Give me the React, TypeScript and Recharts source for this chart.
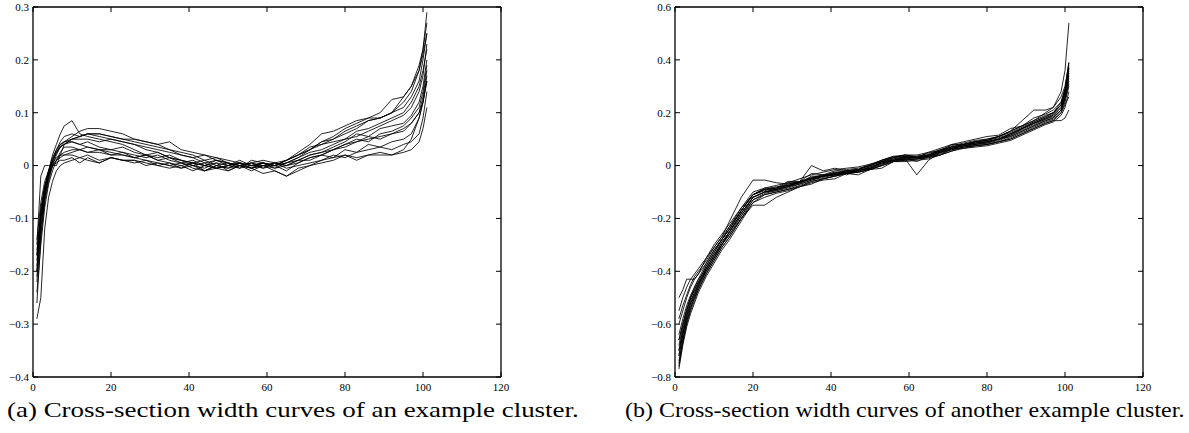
import React from 'react';
import { LineChart, Line, XAxis, YAxis } from 'recharts';

// sample positions along the cross-section (shared by every curve)
const X = [
  1, 2, 3, 4, 5, 6, 7, 8,
  10, 12, 14, 17, 20,
  23, 26, 29, 32, 35, 38,
  41, 44, 47, 50, 53, 56,
  59, 62, 65, 68, 71, 74,
  77, 80, 83, 86, 89, 92,
  95, 97, 99, 100, 101,
];

const X_TICKS = [0, 20, 40, 60, 80, 100, 120];
const Y_TICKS_A = [-0.4, -0.3, -0.2, -0.1, 0, 0.1, 0.2, 0.3];
const Y_TICKS_B = [-0.8, -0.6, -0.4, -0.2, 0, 0.2, 0.4, 0.6];

// (a) example cluster
const a01 = [-0.26, -0.14, -0.06, -0.01, 0.02, 0.04, 0.06, 0.075, 0.085, 0.06, 0.055, 0.05, 0.045, 0.04, 0.03, 0.02, 0.025, 0.015, 0.01, 0, 0.005, -0.005, 0, 0.01, 0, 0.005, 0, 0.01, 0.02, 0.035, 0.04, 0.05, 0.06, 0.07, 0.085, 0.09, 0.1, 0.12, 0.14, 0.18, 0.22, 0.29];
const a02 = [-0.15, -0.02, 0, 0, 0, 0, 0.02, 0.04, 0.05, 0.055, 0.06, 0.06, 0.055, 0.05, 0.045, 0.04, 0.035, 0.03, 0.02, 0.015, 0.02, 0.01, 0.005, 0, 0.005, 0.01, 0.005, 0.01, 0.02, 0.03, 0.045, 0.05, 0.065, 0.075, 0.085, 0.09, 0.1, 0.13, 0.15, 0.18, 0.21, 0.25];
const a03 = [-0.29, -0.25, -0.12, -0.06, -0.03, -0.01, 0, 0.005, 0.01, 0.015, 0.01, 0.005, 0.015, 0.01, 0.01, 0.005, 0, 0.005, -0.005, 0, -0.01, 0, -0.005, 0.005, -0.005, 0, -0.01, -0.02, -0.01, 0, 0.005, 0.01, 0.02, 0.015, 0.02, 0.025, 0.02, 0.03, 0.05, 0.09, 0.12, 0.16];
const a04 = [-0.2, -0.1, -0.05, -0.02, 0, 0.005, 0.01, 0.01, 0.015, 0.005, 0.015, 0.005, 0.015, 0.01, 0.01, 0, 0.005, 0, -0.005, 0.005, 0, -0.005, 0, 0.005, 0, 0, 0.005, 0, 0.01, 0.01, 0.02, 0.015, 0.03, 0.025, 0.04, 0.035, 0.045, 0.05, 0.06, 0.09, 0.12, 0.17];
const a05 = [-0.22, -0.13, -0.07, -0.03, 0, 0.02, 0.035, 0.045, 0.055, 0.065, 0.07, 0.07, 0.065, 0.06, 0.05, 0.045, 0.04, 0.03, 0.025, 0.02, 0.01, 0.015, 0.005, 0, 0.005, -0.005, 0, 0.005, 0.015, 0.025, 0.03, 0.04, 0.05, 0.055, 0.065, 0.075, 0.085, 0.095, 0.11, 0.14, 0.17, 0.23];
const a06 = [-0.18, -0.1, -0.05, -0.02, 0.005, 0.025, 0.035, 0.04, 0.045, 0.04, 0.035, 0.03, 0.03, 0.025, 0.02, 0.015, 0.02, 0.01, 0.005, 0, -0.005, 0.005, 0, -0.005, 0.01, 0.005, 0, 0.01, 0.025, 0.04, 0.06, 0.065, 0.075, 0.085, 0.09, 0.1, 0.125, 0.13, 0.15, 0.19, 0.22, 0.27];
const a07 = [-0.17, -0.08, -0.04, -0.01, 0.01, 0.025, 0.04, 0.045, 0.045, 0.04, 0.045, 0.035, 0.03, 0.035, 0.025, 0.02, 0.015, 0.02, 0.01, 0.005, 0.01, 0, 0.005, -0.005, 0, 0.005, -0.005, 0, 0.01, 0.02, 0.025, 0.035, 0.045, 0.06, 0.055, 0.07, 0.075, 0.08, 0.095, 0.12, 0.15, 0.2];
const a08 = [-0.16, -0.09, -0.04, -0.01, 0.015, 0.03, 0.04, 0.045, 0.05, 0.05, 0.05, 0.045, 0.05, 0.045, 0.04, 0.035, 0.03, 0.025, 0.02, 0.015, 0.005, 0.01, 0, 0.005, 0, -0.005, 0.005, 0, 0.005, 0.015, 0.02, 0.03, 0.035, 0.045, 0.05, 0.055, 0.06, 0.065, 0.08, 0.1, 0.13, 0.18];
const a09 = [-0.19, -0.11, -0.06, -0.025, 0, 0.01, 0.02, 0.025, 0.03, 0.03, 0.025, 0.03, 0.02, 0.025, 0.015, 0.02, 0.01, 0.015, 0.005, 0.01, 0, 0.005, -0.01, 0, -0.005, 0, 0.005, -0.005, 0, 0.005, 0.01, 0.02, 0.015, 0.025, 0.03, 0.035, 0.03, 0.04, 0.045, 0.06, 0.09, 0.14];
const a10 = [-0.21, -0.12, -0.06, -0.02, 0.01, 0.03, 0.045, 0.055, 0.06, 0.055, 0.06, 0.055, 0.05, 0.045, 0.04, 0.03, 0.025, 0.015, 0.01, 0.005, 0, 0.01, 0.005, 0, -0.01, 0, 0, 0.01, 0.02, 0.03, 0.04, 0.045, 0.05, 0.065, 0.07, 0.08, 0.09, 0.1, 0.12, 0.15, 0.18, 0.22];
const a11 = [-0.14, -0.07, -0.03, -0.01, 0.005, 0.015, 0.02, 0.02, 0.025, 0.03, 0.025, 0.025, 0.02, 0.02, 0.015, 0.01, 0.005, 0, 0.005, -0.005, -0.01, 0, -0.005, 0, 0.005, 0, -0.005, 0.005, 0.01, 0.02, 0.025, 0.03, 0.04, 0.045, 0.055, 0.05, 0.06, 0.07, 0.08, 0.1, 0.12, 0.16];
const a12 = [-0.24, -0.15, -0.08, -0.035, -0.01, 0.01, 0.025, 0.035, 0.035, 0.03, 0.035, 0.03, 0.025, 0.02, 0.015, 0.02, 0.01, 0.005, 0, 0.005, -0.01, -0.005, 0, 0.005, -0.005, 0.005, 0, -0.01, 0.005, 0.015, 0.02, 0.03, 0.04, 0.05, 0.045, 0.06, 0.065, 0.075, 0.09, 0.11, 0.14, 0.19];
const a13 = [-0.2, -0.1, -0.045, -0.015, 0.01, 0.025, 0.035, 0.04, 0.05, 0.055, 0.06, 0.06, 0.055, 0.05, 0.05, 0.045, 0.04, 0.045, 0.03, 0.025, 0.02, 0.015, 0.01, 0.005, 0, 0.005, 0, 0.005, 0.015, 0.03, 0.045, 0.055, 0.07, 0.08, 0.09, 0.09, 0.1, 0.11, 0.13, 0.16, 0.2, 0.25];
const a14 = [-0.17, -0.09, -0.04, -0.015, 0, 0.01, 0.015, 0.02, 0.02, 0.015, 0.02, 0.01, 0.015, 0.01, 0.005, 0.01, 0, -0.005, 0, -0.01, 0, -0.005, -0.01, 0, -0.005, -0.015, -0.01, -0.02, -0.005, 0, 0.01, 0.015, 0.02, 0.01, 0.02, 0.02, 0.02, 0.025, 0.03, 0.045, 0.07, 0.11];

// (b) another example cluster
const b01 = [-0.5, -0.47, -0.43, -0.43, -0.43, -0.41, -0.39, -0.37, -0.32, -0.28, -0.24, -0.17, -0.11, -0.09, -0.085, -0.07, -0.06, -0.05, -0.035, -0.03, -0.02, -0.015, 0, 0.015, 0.03, 0.035, 0.03, 0.04, 0.055, 0.07, 0.08, 0.085, 0.09, 0.1, 0.12, 0.14, 0.16, 0.18, 0.19, 0.22, 0.26, 0.35];
const b02 = [-0.55, -0.5, -0.46, -0.43, -0.41, -0.39, -0.37, -0.35, -0.31, -0.27, -0.21, -0.12, -0.055, -0.055, -0.065, -0.07, -0.06, 0, -0.02, -0.01, -0.02, -0.015, 0, 0.02, 0.035, 0.03, 0.035, 0.04, 0.06, 0.07, 0.08, 0.09, 0.095, 0.11, 0.13, 0.15, 0.17, 0.2, 0.22, 0.28, 0.36, 0.54];
const b03 = [-0.72, -0.64, -0.58, -0.53, -0.49, -0.46, -0.43, -0.4, -0.35, -0.3, -0.26, -0.2, -0.15, -0.15, -0.12, -0.1, -0.08, -0.07, -0.05, -0.04, -0.03, -0.025, -0.015, 0, 0.015, 0.02, 0.025, 0.03, 0.04, 0.055, 0.07, 0.075, 0.08, 0.09, 0.1, 0.12, 0.14, 0.16, 0.17, 0.2, 0.24, 0.3];
const b04 = [-0.66, -0.6, -0.55, -0.5, -0.47, -0.44, -0.41, -0.38, -0.33, -0.28, -0.24, -0.17, -0.11, -0.095, -0.085, -0.075, -0.065, -0.045, -0.04, -0.03, -0.025, -0.02, -0.005, 0.01, 0.02, 0.025, -0.035, 0.02, 0.05, 0.065, 0.075, 0.08, 0.085, 0.1, 0.11, 0.13, 0.15, 0.17, 0.18, 0.21, 0.25, 0.32];
const b05 = [-0.7, -0.62, -0.56, -0.51, -0.48, -0.45, -0.42, -0.39, -0.34, -0.29, -0.25, -0.18, -0.12, -0.1, -0.09, -0.08, -0.06, -0.05, -0.04, -0.025, -0.035, -0.015, -0.015, 0.015, 0.02, 0.03, 0.03, 0.04, 0.055, 0.07, 0.08, 0.09, 0.095, 0.11, 0.13, 0.17, 0.21, 0.21, 0.22, 0.26, 0.3, 0.39];
const b06 = [-0.76, -0.67, -0.6, -0.55, -0.51, -0.47, -0.44, -0.41, -0.36, -0.31, -0.27, -0.2, -0.14, -0.11, -0.1, -0.09, -0.075, -0.06, -0.05, -0.04, -0.03, -0.025, -0.015, 0, 0.015, 0.02, 0.025, 0.03, 0.045, 0.06, 0.07, 0.075, 0.08, 0.09, 0.1, 0.12, 0.14, 0.16, 0.17, 0.17, 0.18, 0.21];
const b07 = [-0.74, -0.66, -0.59, -0.54, -0.5, -0.46, -0.43, -0.4, -0.35, -0.3, -0.26, -0.19, -0.13, -0.105, -0.095, -0.085, -0.07, -0.055, -0.045, -0.035, -0.025, -0.02, -0.01, 0.005, 0.02, 0.025, 0.03, 0.035, 0.05, 0.065, 0.075, 0.08, 0.09, 0.1, 0.115, 0.135, 0.155, 0.175, 0.19, 0.22, 0.27, 0.36];
const b08 = [-0.6, -0.55, -0.5, -0.46, -0.43, -0.41, -0.38, -0.36, -0.31, -0.27, -0.23, -0.16, -0.11, -0.085, -0.085, -0.06, -0.06, -0.03, -0.035, -0.02, -0.015, -0.01, 0, 0.02, 0.03, 0.04, 0.03, 0.05, 0.055, 0.08, 0.08, 0.09, 0.1, 0.11, 0.125, 0.145, 0.165, 0.185, 0.2, 0.23, 0.28, 0.38];
const b09 = [-0.68, -0.61, -0.55, -0.5, -0.47, -0.44, -0.42, -0.39, -0.34, -0.29, -0.25, -0.18, -0.12, -0.1, -0.09, -0.075, -0.065, -0.05, -0.04, -0.035, -0.03, -0.02, -0.01, 0.01, 0.02, 0.03, 0.03, 0.035, 0.05, 0.06, 0.07, 0.08, 0.085, 0.095, 0.11, 0.13, 0.15, 0.17, 0.18, 0.21, 0.25, 0.31];
const b10 = [-0.77, -0.68, -0.61, -0.56, -0.52, -0.48, -0.45, -0.42, -0.37, -0.32, -0.28, -0.21, -0.14, -0.12, -0.105, -0.095, -0.08, -0.065, -0.055, -0.05, -0.03, -0.035, -0.015, -0.01, 0.015, 0.015, 0.02, 0.025, 0.04, 0.055, 0.065, 0.07, 0.075, 0.085, 0.095, 0.115, 0.135, 0.155, 0.165, 0.19, 0.22, 0.28];
const b11 = [-0.64, -0.58, -0.53, -0.49, -0.46, -0.43, -0.4, -0.37, -0.32, -0.28, -0.23, -0.17, -0.11, -0.09, -0.08, -0.075, -0.06, -0.045, -0.035, -0.03, -0.02, -0.015, 0.005, 0.015, 0.03, 0.04, 0.035, 0.045, 0.06, 0.075, 0.085, 0.095, 0.1, 0.11, 0.13, 0.15, 0.17, 0.19, 0.2, 0.24, 0.29, 0.37];
const b12 = [-0.72, -0.64, -0.57, -0.52, -0.49, -0.45, -0.42, -0.4, -0.35, -0.3, -0.25, -0.19, -0.12, -0.1, -0.095, -0.08, -0.07, -0.055, -0.04, -0.035, -0.025, -0.02, -0.01, 0.005, 0.02, 0.025, 0.025, 0.035, 0.05, 0.065, 0.075, 0.085, 0.09, 0.1, 0.115, 0.14, 0.16, 0.175, 0.185, 0.21, 0.26, 0.34];
const b13 = [-0.58, -0.53, -0.49, -0.45, -0.42, -0.4, -0.38, -0.35, -0.3, -0.26, -0.22, -0.16, -0.1, -0.085, -0.075, -0.065, -0.05, -0.035, -0.025, -0.015, -0.01, -0.005, 0.005, 0.02, 0.035, 0.04, 0.04, 0.05, 0.065, 0.08, 0.09, 0.1, 0.11, 0.115, 0.14, 0.15, 0.18, 0.195, 0.21, 0.24, 0.29, 0.39];
const b14 = [-0.75, -0.66, -0.59, -0.54, -0.5, -0.47, -0.44, -0.41, -0.36, -0.31, -0.27, -0.2, -0.13, -0.11, -0.1, -0.09, -0.08, -0.06, -0.05, -0.04, -0.03, -0.025, -0.015, 0, 0.015, 0.025, 0.015, 0.035, 0.04, 0.065, 0.065, 0.075, 0.08, 0.09, 0.105, 0.125, 0.145, 0.165, 0.175, 0.2, 0.23, 0.26];
const b15 = [-0.7, -0.63, -0.57, -0.52, -0.48, -0.45, -0.42, -0.39, -0.34, -0.3, -0.25, -0.18, -0.12, -0.1, -0.09, -0.08, -0.065, -0.05, -0.04, -0.035, -0.025, -0.02, -0.005, 0.01, 0.025, 0.03, 0.03, 0.035, 0.05, 0.065, 0.075, 0.085, 0.09, 0.1, 0.12, 0.14, 0.16, 0.18, 0.195, 0.23, 0.28, 0.37];
const b16 = [-0.66, -0.6, -0.54, -0.5, -0.46, -0.43, -0.41, -0.38, -0.33, -0.28, -0.24, -0.17, -0.11, -0.09, -0.09, -0.065, -0.065, -0.04, -0.04, -0.025, -0.02, -0.015, 0, 0.015, 0.025, 0.035, 0.03, 0.04, 0.055, 0.07, 0.08, 0.09, 0.095, 0.105, 0.12, 0.14, 0.165, 0.185, 0.2, 0.23, 0.27, 0.33];

const CLUSTER_A = [a01, a02, a03, a04, a05, a06, a07, a08, a09, a10, a11, a12, a13, a14];
const CLUSTER_B = [b01, b02, b03, b04, b05, b06, b07, b08, b09, b10, b11, b12, b13, b14, b15, b16];

const SERIF = '"Liberation Serif", "Times New Roman", serif';
const TICK_LEN = 5;

const fmtY = (v: number) => {
  if (v === 0) return '0';
  return v < 0 ? '\u2212' + Math.abs(v).toFixed(1) : v.toFixed(1);
};

// matlab-style ticks: short marks pointing into the box
const LeftTick = (props: any) => {
  const { x, y, payload } = props;
  return (
    <g>
      <line x1={x} x2={x + TICK_LEN} y1={y} y2={y} stroke="#000" strokeWidth={1} />
      <text x={x - 4} y={y} dy="0.35em" textAnchor="end" fontSize={11} fontFamily={SERIF} fill="#000">
        {fmtY(payload.value)}
      </text>
    </g>
  );
};

const BottomTick = (props: any) => {
  const { x, y, payload } = props;
  return (
    <g>
      <line x1={x} x2={x} y1={y} y2={y - TICK_LEN} stroke="#000" strokeWidth={1} />
      <text x={x} y={y + 14} textAnchor="middle" fontSize={11} fontFamily={SERIF} fill="#000">
        {payload.value}
      </text>
    </g>
  );
};

const TopTick = (props: any) => (
  <line x1={props.x} x2={props.x} y1={props.y} y2={props.y + TICK_LEN} stroke="#000" strokeWidth={1} />
);

const RightTick = (props: any) => (
  <line x1={props.x} x2={props.x - TICK_LEN} y1={props.y} y2={props.y} stroke="#000" strokeWidth={1} />
);

const axisStroke = { stroke: '#000', strokeWidth: 1.3 };

function ClusterPanel({ curves, yTicks, left }: { curves: number[][]; yTicks: number[]; left: number }) {
  const data = X.map((x, i) => {
    const row: Record<string, number> = { x };
    curves.forEach((c, k) => {
      row['c' + k] = c[i];
    });
    return row;
  });
  const yDomain = [yTicks[0], yTicks[yTicks.length - 1]];

  return (
    <div style={{ position: 'absolute', left, top: 0 }}>
      <LineChart width={520} height={400} data={data} margin={{ top: 6, right: 18, bottom: 0, left: 0 }}>
        <XAxis
          xAxisId="bottom"
          dataKey="x"
          type="number"
          domain={[0, 120]}
          ticks={X_TICKS}
          interval={0}
          height={23}
          tickSize={0}
          tickMargin={0}
          tickLine={false}
          tick={<BottomTick />}
          axisLine={axisStroke}
        />
        <XAxis
          xAxisId="top"
          orientation="top"
          dataKey="x"
          type="number"
          domain={[0, 120]}
          ticks={X_TICKS}
          interval={0}
          height={1}
          tickSize={0}
          tickMargin={0}
          tickLine={false}
          tick={<TopTick />}
          axisLine={axisStroke}
        />
        <YAxis
          yAxisId="left"
          type="number"
          domain={yDomain}
          ticks={yTicks}
          interval={0}
          allowDataOverflow
          width={33}
          tickSize={0}
          tickMargin={0}
          tickLine={false}
          tick={<LeftTick />}
          axisLine={axisStroke}
        />
        <YAxis
          yAxisId="right"
          orientation="right"
          type="number"
          domain={yDomain}
          ticks={yTicks}
          interval={0}
          allowDataOverflow
          width={1}
          tickSize={0}
          tickMargin={0}
          tickLine={false}
          tick={<RightTick />}
          axisLine={axisStroke}
        />
        {curves.map((_, k) => (
          <Line
            key={k}
            xAxisId="bottom"
            yAxisId="left"
            type="linear"
            dataKey={'c' + k}
            stroke="#000"
            strokeWidth={0.85}
            dot={false}
            activeDot={false}
            isAnimationActive={false}
          />
        ))}
        {/* keeps the top/right frame axes bound to data */}
        <Line
          xAxisId="top"
          yAxisId="right"
          type="linear"
          dataKey="c0"
          stroke="#000"
          strokeOpacity={0}
          dot={false}
          activeDot={false}
          isAnimationActive={false}
        />
      </LineChart>
    </div>
  );
}

const captionStyle: React.CSSProperties = {
  position: 'absolute',
  top: 399,
  fontFamily: SERIF,
  fontSize: 22,
  lineHeight: '22px',
  whiteSpace: 'nowrap',
  color: '#000',
  transformOrigin: 'left top',
};

export default function App() {
  return (
    <div style={{ position: 'absolute', left: 0, top: 0, width: 1189, height: 433, background: '#fff', overflow: 'hidden' }}>
      <ClusterPanel curves={CLUSTER_A} yTicks={Y_TICKS_A} left={0} />
      <ClusterPanel curves={CLUSTER_B} yTicks={Y_TICKS_B} left={642} />
      <div style={{ ...captionStyle, left: 7, transform: 'scaleX(1.225)' }}>
        (a) Cross-section width curves of an example cluster.
      </div>
      <div style={{ ...captionStyle, left: 625, transform: 'scaleX(1.09)' }}>
        (b) Cross-section width curves of another example cluster.
      </div>
    </div>
  );
}
